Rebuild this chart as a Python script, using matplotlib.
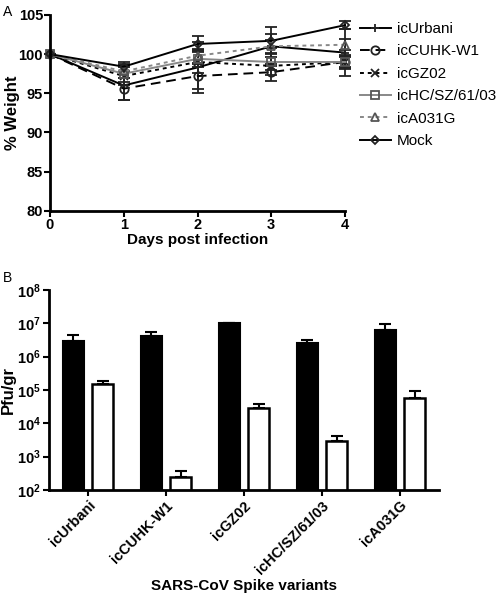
import matplotlib
matplotlib.use("Agg")
import matplotlib.pyplot as plt
from matplotlib.lines import Line2D
import numpy as np

plt.rcParams['font.family'] = ['Liberation Sans', 'DejaVu Sans']
plt.rcParams['mathtext.default'] = 'regular'

# panel A: weight loss
days = [0, 1, 2, 3, 4]
urbani = [100, 96.0, 98.3, 101.0, 100.2]
urbani_err = [0, 1.9, 3.3, 2.5, 3.0]
cuhk = [100, 95.6, 97.2, 97.7, 99.0]
cuhk_err = [0, 1.4, 1.6, 1.1, 0.9]
gz02 = [100, 97.2, 99.0, 98.5, 99.0]
gz02_err = [0, 1.2, 1.4, 1.2, 0.8]
hc = [100, 97.5, 99.4, 99.0, 99.0]
hc_err = [0, 1.1, 1.1, 1.0, 0.7]
a031g = [100, 97.8, 99.8, 101.0, 101.2]
a031g_err = [0, 0.9, 0.9, 0.8, 0.7]
mock = [100, 98.4, 101.3, 101.7, 103.7]
mock_err = [0, 0.6, 1.0, 0.9, 0.5]

# panel B: titers
variants = ['icUrbani', 'icCUHK-W1', 'icGZ02', 'icHC/SZ/61/03', 'icA031G']
black_vals = [2.9e6, 4.1e6, 1.0e7, 2.6e6, 6.1e6]
black_err = [1.5e6, 1.4e6, 1.5e5, 5e5, 3.7e6]
white_vals = [1.55e5, 240, 2.9e4, 3.0e3, 5.9e4]
white_err = [3.5e4, 130, 8e3, 1.1e3, 3.2e4]

fig = plt.figure(figsize=(5, 5.99), dpi=100)

axA = fig.add_axes([0.1, 0.648, 0.59, 0.327])
series = [
    ('icUrbani', urbani, urbani_err, 'black', '-', '+'),
    ('icCUHK-W1', cuhk, cuhk_err, 'black', (0, (5, 3)), 'o'),
    ('icGZ02', gz02, gz02_err, 'black', (0, (2, 2)), 'x'),
    ('icHC/SZ/61/03', hc, hc_err, '#888888', '-', 's'),
    ('icA031G', a031g, a031g_err, '#888888', (0, (2, 2)), '^'),
    ('Mock', mock, mock_err, 'black', '-', 'D'),
]
handles = []
for name, vals, err, col, ls, mk in series:
    style = dict(color=col, ls=ls, lw=1.4, marker=mk,
                 ms=6 if mk != 'D' else 4.5,
                 mfc='none' if mk not in '+x' else col,
                 mec='#222222' if col == 'black' else '#555555', mew=1.3)
    axA.errorbar(days, vals, yerr=err, ecolor='#222222', elinewidth=1.3,
                 capsize=4, capthick=1.3, clip_on=False, **style)
    handles.append(Line2D([], [], label=name, **style))
axA.set_xlim(0, 4)
axA.set_ylim(80, 105)
axA.set_xticks([0, 1, 2, 3, 4])
axA.set_yticks([80, 85, 90, 95, 100, 105])
axA.set_ylabel('% Weight', fontsize=12, fontweight='bold')
axA.yaxis.set_label_coords(-0.10, 0.5)
axA.set_xlabel('Days post infection', fontsize=11, fontweight='bold', labelpad=1)
for s in ['top', 'right']:
    axA.spines[s].set_visible(False)
for s in ['left', 'bottom']:
    axA.spines[s].set_linewidth(2)
axA.tick_params(width=1.5, length=4, labelsize=10.5, pad=1)
for lbl in axA.get_xticklabels() + axA.get_yticklabels():
    lbl.set_fontweight('bold')
axA.legend(handles=handles, loc='upper left', bbox_to_anchor=(1.03, 0.995),
           frameon=False, fontsize=11, handlelength=2.0, labelspacing=0.55,
           handletextpad=0.4, borderaxespad=0)

axB = fig.add_axes([0.098, 0.182, 0.78, 0.334])
x = np.arange(len(variants))
w = 0.27
off = 0.19
axB.bar(x - off, black_vals, w, color='black', edgecolor='black', lw=1.5,
        yerr=[np.zeros(5), black_err], capsize=4, error_kw=dict(elinewidth=1.5, capthick=1.5))
axB.bar(x + off, white_vals, w, color='white', edgecolor='black', lw=1.8,
        yerr=[np.zeros(5), white_err], capsize=4, error_kw=dict(elinewidth=1.5, capthick=1.5))
axB.set_yscale('log')
axB.set_ylim(1e2, 1e8)
axB.set_xlim(-0.5, 4.5)
axB.set_yticks([1e2, 1e3, 1e4, 1e5, 1e6, 1e7, 1e8])
axB.set_yticklabels([r'$10^{%d}$' % k for k in range(2, 9)])
axB.minorticks_off()
axB.set_xticks(x)
axB.set_xticklabels(variants, rotation=45, ha='right', rotation_mode='anchor')
axB.set_ylabel('Pfu/gr', fontsize=12, fontweight='bold')
axB.yaxis.set_label_coords(-0.084, 0.5)
axB.set_xlabel('SARS-CoV Spike variants', fontsize=11, fontweight='bold', labelpad=2)
for s in ['top', 'right']:
    axB.spines[s].set_visible(False)
for s in ['left', 'bottom']:
    axB.spines[s].set_linewidth(2)
axB.tick_params(width=1.5, length=4, labelsize=10.5, pad=2)
for lbl in axB.get_xticklabels() + axB.get_yticklabels():
    lbl.set_fontweight('bold')

fig.text(0.006, 0.992, 'A', fontsize=10, va='top')
fig.text(0.006, 0.548, 'B', fontsize=10, va='top')

fig.savefig('out.png', dpi=100)
